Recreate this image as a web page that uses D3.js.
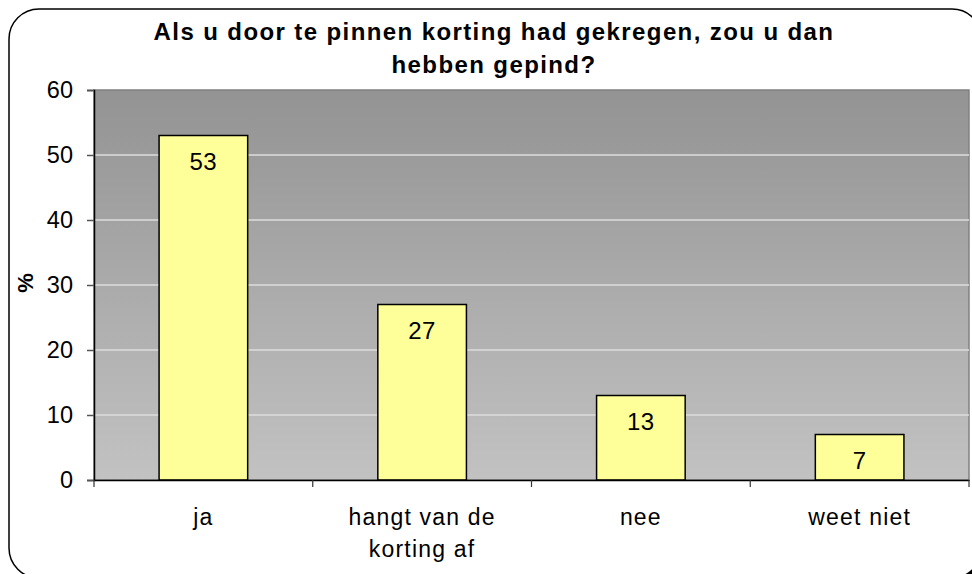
<style>body { margin: 0; }</style>
<svg id="container" width="972" height="574" style="display:block"></svg>

<script src="https://d3js.org/d3.v7.min.js"></script>
<script>
  // Chart data
  const categories = ['ja', 'hangt van de|korting af', 'nee', 'weet niet']
  const values = [53, 27, 13, 7]
  const yTicks = [0, 10, 20, 30, 40, 50, 60]
  const titleLines = ['Als u door te pinnen korting had gekregen, zou u dan', 'hebben gepind?']

  const font = 'Liberation Sans, Arial, sans-serif'
  const plot = { left: 94, right: 969, top: 90, bottom: 480 }

  const svg = d3.select('#container')
    .style('font-family', font)

  // outer frame with shadow, partly cut off on the right and bottom
  svg.append('rect')
    .attr('x', 12).attr('y', 12)
    .attr('width', 973).attr('height', 569)
    .attr('rx', 30)
    .attr('fill', '#000')
  svg.append('rect')
    .attr('x', 9).attr('y', 9)
    .attr('width', 973).attr('height', 569)
    .attr('rx', 30)
    .attr('fill', '#fff')
    .attr('stroke', '#000')
    .attr('stroke-width', 1.5)

  // gradient background for the plot area
  const grad = svg.append('defs').append('linearGradient')
    .attr('id', 'bg').attr('x1', 0).attr('y1', 0).attr('x2', 0).attr('y2', 1)
  grad.append('stop').attr('offset', '0%').attr('stop-color', '#939393')
  grad.append('stop').attr('offset', '100%').attr('stop-color', '#c2c2c2')

  const x = d3.scaleBand()
    .domain(categories)
    .range([plot.left, plot.right])
    .paddingInner(0.595)
    .paddingOuter(0.2975)

  const xOuter = d3.scaleBand()
    .domain(categories)
    .range([plot.left, plot.right])

  const y = d3.scaleLinear()
    .domain([0, 60])
    .range([plot.bottom, plot.top])

  svg.append('rect')
    .attr('x', plot.left).attr('y', plot.top)
    .attr('width', plot.right - plot.left)
    .attr('height', plot.bottom - plot.top)
    .attr('fill', 'url(#bg)')
    .attr('stroke', '#808080')
    .attr('stroke-width', 1.5)

  // gridlines
  svg.append('g')
    .selectAll('line')
    .data(yTicks.filter(t => t > 0 && t < 60))
    .enter()
    .append('line')
    .attr('x1', plot.left).attr('x2', plot.right)
    .attr('y1', d => y(d)).attr('y2', d => y(d))
    .attr('stroke', '#dcdcdc')
    .attr('stroke-width', 1.5)

  // bars
  svg.append('g')
    .selectAll('rect')
    .data(values)
    .enter()
    .append('rect')
    .attr('x', (d, i) => x(categories[i]))
    .attr('width', x.bandwidth())
    .attr('y', d => y(d))
    .attr('height', d => y(0) - y(d))
    .attr('fill', '#ffff99')
    .attr('stroke', '#000')
    .attr('stroke-width', 1.5)

  // value labels
  svg.append('g')
    .selectAll('text')
    .data(values)
    .enter()
    .append('text')
    .attr('x', (d, i) => x(categories[i]) + x.bandwidth() / 2)
    .attr('y', d => y(d) + 34)
    .attr('text-anchor', 'middle')
    .attr('font-size', 24)
    .attr('letter-spacing', 0.5)
    .text(d => d)

  // y axis
  const yAxis = svg.append('g')
    .attr('transform', `translate(${plot.left},0)`)
    .call(d3.axisLeft(y).tickValues(yTicks).tickSize(7).tickPadding(14))
  yAxis.select('.domain').attr('stroke', '#000').attr('stroke-width', 1.5)
  yAxis.selectAll('.tick line').attr('stroke', '#555').attr('stroke-width', 1.5)
  yAxis.selectAll('.tick text')
    .attr('font-size', 23.5)
    .attr('font-family', font)
    .attr('fill', '#000')

  // x axis
  const xAxis = svg.append('g')
    .attr('transform', `translate(0,${plot.bottom})`)
    .call(d3.axisBottom(xOuter).tickSize(0).tickFormat(''))
  xAxis.select('.domain').attr('stroke', '#000').attr('stroke-width', 1.5)
  xAxis.selectAll('.tick').remove()
  xAxis.selectAll('line.sep')
    .data(categories.concat(['end']))
    .enter()
    .append('line')
    .attr('class', 'sep')
    .attr('x1', (d, i) => i < categories.length ? xOuter(d) : plot.right)
    .attr('x2', (d, i) => i < categories.length ? xOuter(d) : plot.right)
    .attr('y1', 0).attr('y2', 7)
    .attr('stroke', '#333')
    .attr('stroke-width', 1.2)

  // category labels, may wrap on two lines
  const catText = svg.append('g')
    .selectAll('text')
    .data(categories)
    .enter()
    .append('text')
    .attr('x', d => xOuter(d) + xOuter.bandwidth() / 2)
    .attr('y', 525)
    .attr('text-anchor', 'middle')
    .attr('font-size', 23)
    .attr('letter-spacing', 1.2)
  catText.selectAll('tspan')
    .data(d => d.split('|'))
    .enter()
    .append('tspan')
    .attr('x', function () { return d3.select(this.parentNode).attr('x') })
    .attr('dy', (d, i) => i === 0 ? 0 : 32)
    .text(d => d)

  // y axis title
  svg.append('text')
    .attr('transform', 'translate(33,283) rotate(-90)')
    .attr('text-anchor', 'middle')
    .attr('font-size', 22)
    .attr('font-weight', 'bold')
    .text('%')

  // chart title
  svg.append('text')
    .attr('text-anchor', 'middle')
    .attr('font-size', 24)
    .attr('font-weight', 'bold')
    .attr('letter-spacing', 1.4)
    .selectAll('tspan')
    .data(titleLines)
    .enter()
    .append('tspan')
    .attr('x', 494)
    .attr('y', (d, i) => 40 + i * 33)
    .text(d => d)
</script>
